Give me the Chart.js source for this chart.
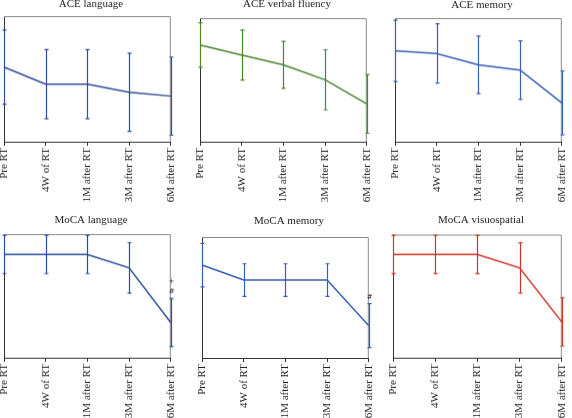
<!DOCTYPE html>
<html>
<head>
<meta charset="utf-8">
<script src="https://cdn.jsdelivr.net/npm/chart.js@4"></script>
<style>
  html, body { margin: 0; padding: 0; background: #fff; width: 572px; height: 418px; overflow: hidden; position: relative; }
  .panel { position: absolute; }
</style>
</head>
<body>
<div class="panel" id="p1"><canvas id="c1"></canvas></div>
<div class="panel" id="p2"><canvas id="c2"></canvas></div>
<div class="panel" id="p3"><canvas id="c3"></canvas></div>
<div class="panel" id="p4"><canvas id="c4"></canvas></div>
<div class="panel" id="p5"><canvas id="c5"></canvas></div>
<div class="panel" id="p6"><canvas id="c6"></canvas></div>
<script>
// time points (same for every panel)
const timePoints = ['Pre RT', '4W of RT', '1M after RT', '3M after RT', '6M after RT'];

// no y labels in the source, values are in relative units (0-100 of the plot height)
const aceLangMean = [59.4, 45.8, 45.8, 39.4, 36.3];
const aceLangSd   = [29.5, 27.5, 27.5, 31.1, 31.1];

const aceFluencyMean = [78.2, 70.1, 62.2, 50.1, 30.6];
const aceFluencySd   = [18.0, 20.2, 19.0, 24.3, 23.7];

const aceMemMean = [73.5, 71.4, 62.2, 57.9, 31.4];
const aceMemSd   = [24.8, 24.0, 23.2, 23.7, 25.9];

const mocaLangMean = [83.6, 83.6, 83.6, 72.7, 28.5];
const mocaLangSd   = [15.5, 15.5, 15.5, 20.4, 19.4];
const mocaLangMarks = [61.6, 53.5];
const mocaLangMarkText = ['+', '#'];

const mocaMemMean = [76.8, 64.4, 64.4, 64.4, 26.7];
const mocaMemSd   = [18.0, 13.5, 13.5, 13.5, 18.2];
const mocaMemMarks = [50.4];
const mocaMemMarkText = ['#'];

const mocaVisMean = [83.9, 83.9, 83.9, 73.0, 29.1];
const mocaVisSd   = [15.6, 15.6, 15.6, 20.4, 19.5];

const serif = 'Liberation Serif, Times New Roman, serif';

// frame: gray top/right edges
const framePlugin = {
  id: 'frame',
  beforeDatasetsDraw(chart) {
    const a = chart.chartArea, ctx = chart.ctx;
    ctx.save();
    ctx.strokeStyle = '#8a8a8a';
    ctx.lineWidth = 1;
    ctx.beginPath();
    ctx.moveTo(a.left, a.top + 0.5);
    ctx.lineTo(a.right - 0.5, a.top + 0.5);
    ctx.lineTo(a.right - 0.5, a.bottom);
    ctx.stroke();
    ctx.restore();
  }
};

// error bars (mean +/- sd) and small significance marks
const errorPlugin = {
  id: 'errbars',
  afterDatasetsDraw(chart, args, opts) {
    const ctx = chart.ctx;
    const xs = chart.scales.x, ys = chart.scales.y;
    const mean = chart.data.datasets[0].data;
    ctx.save();
    ctx.strokeStyle = opts.color;
    ctx.lineWidth = 1.2;
    mean.forEach((m, i) => {
      const x = Math.round(xs.getPixelForValue(i)) + 0.5;
      const yt = ys.getPixelForValue(m + opts.sd[i]);
      const yb = ys.getPixelForValue(m - opts.sd[i]);
      ctx.beginPath();
      ctx.moveTo(x, yt); ctx.lineTo(x, yb);
      ctx.moveTo(x - 2, yt); ctx.lineTo(x + 2, yt);
      ctx.moveTo(x - 2, yb); ctx.lineTo(x + 2, yb);
      ctx.stroke();
    });
    if (opts.marks) {
      ctx.fillStyle = '#222';
      ctx.font = '7px DejaVu Sans';
      ctx.textAlign = 'center';
      ctx.textBaseline = 'middle';
      const x = xs.getPixelForValue(mean.length - 1) + 1;
      opts.marks.forEach((v, k) => {
        ctx.fillText(opts.markText[k], x, ys.getPixelForValue(v));
      });
    }
    ctx.restore();
  }
};

function makePanel(n, title, mean, sd, color, box, marks, markText) {
  const padX = 8, axisH = 62, titleLine = 13.2;
  const top = Math.round(box.ty - titleLine / 2);
  const width = box.r - box.l + 2 * padX;
  const height = box.b + axisH - top;
  const div = document.getElementById('p' + n);
  div.style.left = (box.l - padX) + 'px';
  div.style.top = top + 'px';
  const cv = document.getElementById('c' + n);
  cv.width = width; cv.height = height;
  cv.style.width = width + 'px'; cv.style.height = height + 'px';

  new Chart(cv, {
    type: 'line',
    data: {
      labels: timePoints,
      datasets: [{
        data: mean,
        borderColor: color,
        borderWidth: 1.5,
        pointRadius: 0,
        tension: 0,
        fill: false
      }]
    },
    options: {
      responsive: false,
      animation: false,
      devicePixelRatio: 1,
      layout: { padding: { left: padX, right: padX, top: 0, bottom: 0 } },
      plugins: {
        legend: { display: false },
        tooltip: { enabled: false },
        title: {
          display: true,
          text: title,
          color: '#222',
          font: { family: serif, size: 11, weight: 'normal', lineHeight: 1.2 },
          padding: { top: 0, bottom: box.t - top - titleLine }
        },
        errbars: { sd: sd, color: color, marks: marks, markText: markText }
      },
      scales: {
        x: {
          offset: false,
          grid: { display: true, drawOnChartArea: false, tickLength: 4, color: '#333' },
          border: { display: true, color: '#333', width: 1 },
          ticks: {
            autoSkip: false, minRotation: 90, maxRotation: 90, padding: 2,
            color: '#222', font: { family: serif, size: 11 }
          },
          afterFit(s) { s.height = axisH; }
        },
        y: {
          min: 0, max: 100,
          ticks: { display: false },
          grid: { display: false },
          border: { display: true, color: '#333', width: 1 },
          afterFit(s) { s.width = 0; }
        }
      }
    },
    plugins: [framePlugin, errorPlugin]
  });
}

makePanel(1, 'ACE language', aceLangMean, aceLangSd, '#2f4d9c', { l: 4, r: 178, t: 16, b: 141.5, ty: 5 });
makePanel(2, 'ACE verbal fluency', aceFluencyMean, aceFluencySd, '#4a862a', { l: 199.5, r: 374, t: 18, b: 141.5, ty: 5 });
makePanel(3, 'ACE memory', aceMemMean, aceMemSd, '#365fb5', { l: 395, r: 569, t: 18, b: 141.5, ty: 5.5 });
makePanel(4, 'MoCA language', mocaLangMean, mocaLangSd, '#2c4c9f', { l: 4, r: 178, t: 234, b: 357.5, ty: 221 }, mocaLangMarks, mocaLangMarkText);
makePanel(5, 'MoCA memory', mocaMemMean, mocaMemSd, '#365fb5', { l: 202, r: 376, t: 237, b: 358, ty: 222 }, mocaMemMarks, mocaMemMarkText);
makePanel(6, 'MoCA visuospatial', mocaVisMean, mocaVisSd, '#cf3428', { l: 393, r: 569, t: 234.5, b: 357.5, ty: 221 });
</script>
</body>
</html>
